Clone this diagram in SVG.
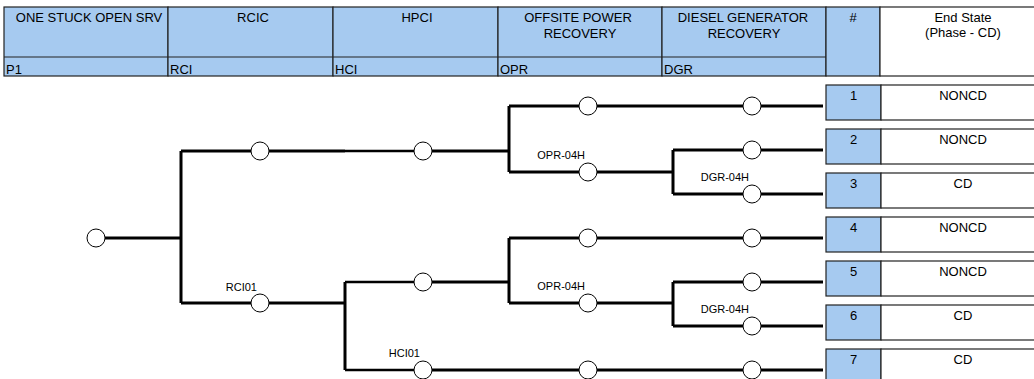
<svg xmlns="http://www.w3.org/2000/svg" width="1034" height="379" viewBox="0 0 1034 379">
<style>
text{font-family:"Liberation Sans",Arial,sans-serif;fill:#000}
.h{font-size:13px;text-anchor:middle}
.s{font-size:13px}
.lb{font-size:11px;text-anchor:end}
.bt{font-size:13px;text-anchor:middle}
.hb{fill:#a6caf0;stroke:#222;stroke-width:1.2}
.hw{fill:#fff;stroke:#222;stroke-width:1.2}
.ln{stroke:#000;stroke-width:3;fill:none}
.tn{stroke:#000;stroke-width:2.4;fill:none}
.nd{fill:#fff;stroke:#000;stroke-width:1}
</style>
<g id="header">
<rect class="hb" x="4" y="7" width="164" height="69"/>
<rect class="hb" x="168" y="7" width="165" height="69"/>
<rect class="hb" x="333" y="7" width="165" height="69"/>
<rect class="hb" x="498" y="7" width="164" height="69"/>
<rect class="hb" x="662" y="7" width="164" height="69"/>
<rect class="hb" x="826" y="7" width="54" height="69"/>
<rect class="hw" x="880" y="7" width="166" height="69"/>
<line x1="4" y1="57" x2="826" y2="57" stroke="#222" stroke-width="1.2"/>
<text class="h" x="89" y="22">ONE STUCK OPEN SRV</text>
<text class="h" x="253" y="22">RCIC</text>
<text class="h" x="417" y="22">HPCI</text>
<text class="h" x="578" y="22">OFFSITE POWER</text>
<text class="h" x="580" y="38">RECOVERY</text>
<text class="h" x="743" y="22">DIESEL GENERATOR</text>
<text class="h" x="744" y="38">RECOVERY</text>
<text class="h" x="853" y="22">#</text>
<text class="h" x="963" y="22">End State</text>
<text class="h" x="963" y="37">(Phase - CD)</text>
<text class="s" x="6" y="73.5">P1</text>
<text class="s" x="170" y="73.5">RCI</text>
<text class="s" x="335" y="73.5">HCI</text>
<text class="s" x="500" y="73.5">OPR</text>
<text class="s" x="664" y="73.5">DGR</text>
</g>
<g id="connectors">
<path class="ln" d="M105 238H181M181 151V303M181 151H251M269 151H345M432 151H509M509 106V172M509 106H579M597 106H743M761 106H823M509 172H579M597 172H673M673 150V194M673 150H743M761 150H823M673 194H743M761 194H823"/>
<path class="tn" d="M345 151H414M345 282H414M345 370H414"/>
<path class="ln" d="M181 303H251M269 303H345M345 282V370M432 282H509M509 238V303M509 238H579M597 238H743M761 238H823M509 303H579M597 303H673M673 282V326M673 282H743M761 282H823M673 326H743M761 326H823M432 370H579M597 370H743M761 370H823"/>
</g>
<g id="nodes">
<g id="n-root"><circle class="nd" cx="96" cy="238" r="9"/></g>
<g id="n-rcic-s"><circle class="nd" cx="260" cy="151" r="9"/></g>
<g id="n-hpci-s1"><circle class="nd" cx="423" cy="151" r="9"/></g>
<g id="n-opr-s1"><circle class="nd" cx="588" cy="106" r="9"/></g>
<g id="n-dgr-1"><circle class="nd" cx="752" cy="106" r="9"/></g>
<g id="n-opr-04h-1"><circle class="nd" cx="588" cy="172" r="9"/><text class="lb" x="585" y="159">OPR-04H</text></g>
<g id="n-dgr-2"><circle class="nd" cx="752" cy="150" r="9"/></g>
<g id="n-dgr-04h-1"><circle class="nd" cx="752" cy="194" r="9"/><text class="lb" x="749" y="181">DGR-04H</text></g>
<g id="n-rci01"><circle class="nd" cx="260" cy="303" r="9"/><text class="lb" x="257" y="291">RCI01</text></g>
<g id="n-hpci-s2"><circle class="nd" cx="423" cy="282" r="9"/></g>
<g id="n-opr-s2"><circle class="nd" cx="588" cy="238" r="9"/></g>
<g id="n-dgr-4"><circle class="nd" cx="752" cy="238" r="9"/></g>
<g id="n-opr-04h-2"><circle class="nd" cx="588" cy="303" r="9"/><text class="lb" x="585" y="290">OPR-04H</text></g>
<g id="n-dgr-5"><circle class="nd" cx="752" cy="282" r="9"/></g>
<g id="n-dgr-04h-2"><circle class="nd" cx="752" cy="326" r="9"/><text class="lb" x="749" y="313">DGR-04H</text></g>
<g id="n-hci01"><circle class="nd" cx="423" cy="370" r="9"/><text class="lb" x="420" y="357">HCI01</text></g>
<g id="n-opr-7"><circle class="nd" cx="588" cy="370" r="9"/></g>
<g id="n-dgr-7"><circle class="nd" cx="752" cy="370" r="9"/></g>
</g>
<g id="end-states">
<g id="row1"><rect class="hb" x="826" y="85" width="55" height="35"/><rect class="hw" x="881" y="85" width="165" height="35"/><text class="bt" x="853.5" y="100">1</text><text class="bt" x="963" y="100">NONCD</text></g>
<g id="row2"><rect class="hb" x="826" y="129" width="55" height="35"/><rect class="hw" x="881" y="129" width="165" height="35"/><text class="bt" x="853.5" y="144">2</text><text class="bt" x="963" y="144">NONCD</text></g>
<g id="row3"><rect class="hb" x="826" y="173" width="55" height="35"/><rect class="hw" x="881" y="173" width="165" height="35"/><text class="bt" x="853.5" y="188">3</text><text class="bt" x="963" y="188">CD</text></g>
<g id="row4"><rect class="hb" x="826" y="217" width="55" height="35"/><rect class="hw" x="881" y="217" width="165" height="35"/><text class="bt" x="853.5" y="232">4</text><text class="bt" x="963" y="232">NONCD</text></g>
<g id="row5"><rect class="hb" x="826" y="261" width="55" height="35"/><rect class="hw" x="881" y="261" width="165" height="35"/><text class="bt" x="853.5" y="276">5</text><text class="bt" x="963" y="276">NONCD</text></g>
<g id="row6"><rect class="hb" x="826" y="305" width="55" height="35"/><rect class="hw" x="881" y="305" width="165" height="35"/><text class="bt" x="853.5" y="320">6</text><text class="bt" x="963" y="320">CD</text></g>
<g id="row7"><rect class="hb" x="826" y="349" width="55" height="35"/><rect class="hw" x="881" y="349" width="165" height="35"/><text class="bt" x="853.5" y="364">7</text><text class="bt" x="963" y="364">CD</text></g>
</g>
</svg>
